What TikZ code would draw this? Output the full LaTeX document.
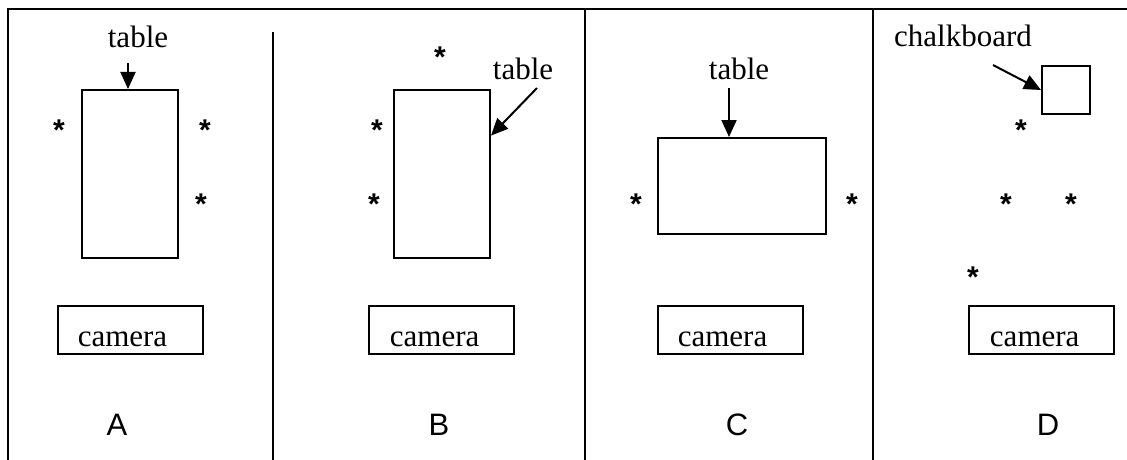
\documentclass[tikz,border=0pt]{standalone}
\usepackage{fontspec}
\setmainfont{Liberation Serif}
\newfontfamily\arialfont{Liberation Sans}
\usetikzlibrary{arrows.meta,calc}
\begin{document}
\begin{tikzpicture}[x=1pt,y=-1pt,
  frame/.style={line width=2pt},
  box/.style={draw, line width=2pt, inner sep=0pt, anchor=north west},
  lbl/.style={font=\fontsize{31}{36}\selectfont, inner sep=0pt, anchor=base},
  star/.style={font=\arialfont\bfseries\fontsize{30}{36}\selectfont, inner sep=0pt, anchor=base},
  letter/.style={font=\arialfont\fontsize{31}{36}\selectfont, inner sep=0pt, anchor=base},
  pointer/.style={line width=2pt, -{Triangle[length=17pt,width=15pt]}}]
\useasboundingbox (0,0) rectangle (1127,460);

% frame and panel dividers
\draw[frame] (8,460) -- (8,9) -- (1127,9);
\draw[frame] (273,32) -- (273,460);
\draw[frame] (585,9) -- (585,460);
\draw[frame] (873,9) -- (873,460);

% ---- panel A ----
\node[box, minimum width=96pt, minimum height=168pt] (tabA) at (81,89) {};
\node[lbl] (lblA) at (138,48) {table};
\coordinate (ptrA) at (128,63);
\draw[pointer] (ptrA) -- (ptrA |- tabA.north);
\node[star] (sA1) at (59,140) {*};
\node[star] (sA2) at (205,140) {*};
\node[star] (sA3) at (201,214) {*};
\node[box, minimum width=145pt, minimum height=48pt] (camA) at (57,305) {};
\begin{scope}
  \clip (camA.north west) rectangle ($(camA.south east)+(0,-9)$);
  \node[lbl] (camAtext) at (122.5,346) {camera};
\end{scope}
\node[letter] (labA) at (117,435) {A};

% ---- panel B ----
\node[box, minimum width=96pt, minimum height=168pt] (tabB) at (393,89) {};
\node[lbl] (lblB) at (523,80) {table};
\coordinate (ptrB) at (537,88);
\draw[pointer] (ptrB) -- ($(tabB.north east)!0.274!(tabB.south east)$);
\node[star] (sB1) at (440,67) {*};
\node[star] (sB2) at (377,140) {*};
\node[star] (sB3) at (374,214) {*};
\node[box, minimum width=145pt, minimum height=48pt] (camB) at (368,305) {};
\begin{scope}
  \clip (camB.north west) rectangle ($(camB.south east)+(0,-9)$);
  \node[lbl] (camBtext) at (434.7,346) {camera};
\end{scope}
\node[letter] (labB) at (439,435) {B};

% ---- panel C ----
\node[box, minimum width=168pt, minimum height=96pt] (tabC) at (657,137) {};
\node[lbl] (lblC) at (739,80) {table};
\coordinate (ptrC) at (729,88);
\draw[pointer] (ptrC) -- (ptrC |- tabC.north);
\node[star] (sC1) at (636,214) {*};
\node[star] (sC2) at (852,214) {*};
\node[box, minimum width=145pt, minimum height=48pt] (camC) at (657,305) {};
\begin{scope}
  \clip (camC.north west) rectangle ($(camC.south east)+(0,-9)$);
  \node[lbl] (camCtext) at (722.5,346) {camera};
\end{scope}
\node[letter] (labC) at (737,435) {C};

% ---- panel D ----
\node[box, minimum width=48pt, minimum height=48pt] (board) at (1041,65) {};
\node[lbl] (lblD) at (963,47) {chalkboard};
\coordinate (ptrD) at (993,65);
\draw[pointer] (ptrD) -- (board.west);
\node[star] (sD1) at (1021,140) {*};
\node[star] (sD2) at (1006,214) {*};
\node[star] (sD3) at (1071,214) {*};
\node[star] (sD4) at (973,287) {*};
\node[box, minimum width=145pt, minimum height=48pt] (camD) at (968,305) {};
\begin{scope}
  \clip (camD.north west) rectangle ($(camD.south east)+(0,-9)$);
  \node[lbl] (camDtext) at (1034.7,346) {camera};
\end{scope}
\node[letter] (labD) at (1048,435) {D};
\end{tikzpicture}
\end{document}
